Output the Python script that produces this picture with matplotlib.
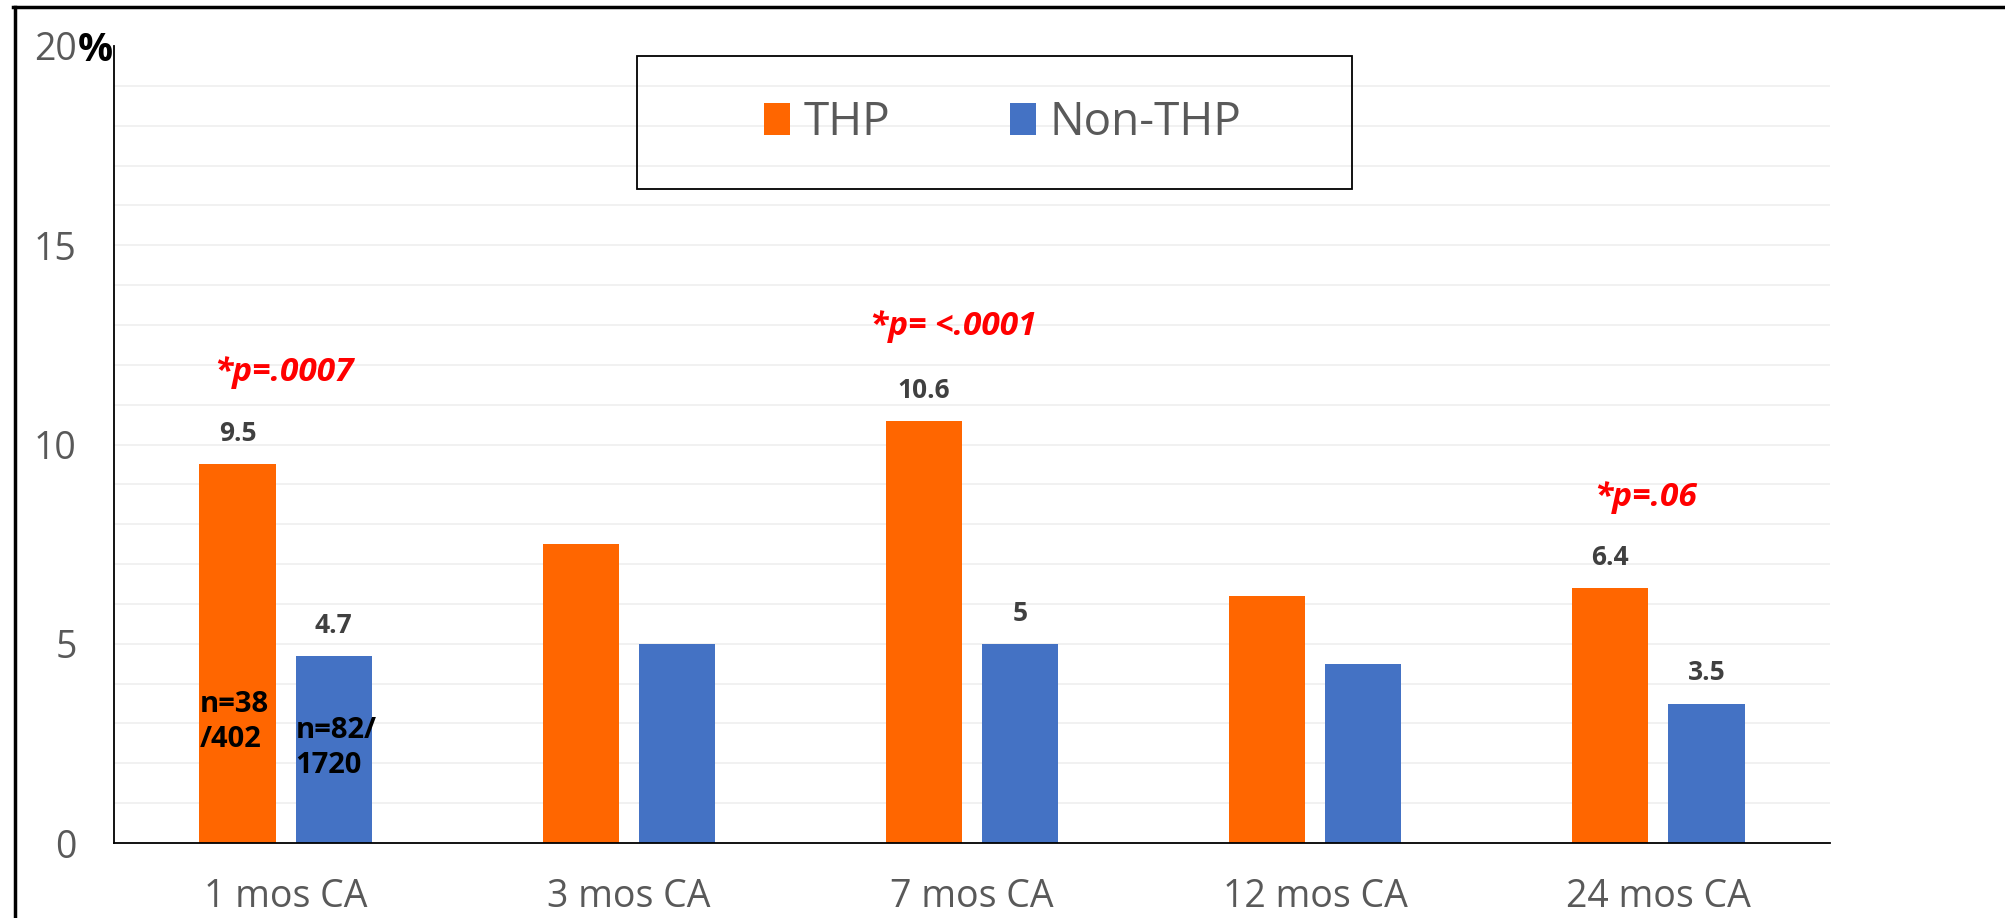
import numpy as np
import matplotlib
matplotlib.use("Agg")
from matplotlib import pyplot as plt
from matplotlib.patches import Rectangle
from matplotlib.lines import Line2D

plt.rcParams['font.family'] = ['Open Sans', 'DejaVu Sans']

# data
categories = ['1 mos CA', '3 mos CA', '7 mos CA', '12 mos CA', '24 mos CA']
thp = [9.5, 7.5, 10.6, 6.2, 6.4]
non_thp = [4.7, 5.0, 5.0, 4.5, 3.5]
thp_labels = ['9.5', '', '10.6', '', '6.4']
non_thp_labels = ['4.7', '', '5', '', '3.5']
p_labels = ['*p=.0007', '', '*p= <.0001', '', '*p=.06']
p_heights = [11.8, 0, 12.95, 0, 8.68]
n_thp = ['n=38\n/402', '', '', '', '']
n_non_thp = ['n=82/\n1720', '', '', '', '']

orange = '#ff6600'
blue = '#4472c4'
gray = '#595959'

fig = plt.figure(figsize=(20.05, 9.18), dpi=100)
ax = fig.add_axes([114/2005, 1-843/918, 1716/2005, 797/918])

x = np.arange(len(categories))
w = 0.222
off = 0.14
b1 = ax.bar(x - off, thp, w, color=orange, label='THP', zorder=2)
b2 = ax.bar(x + off, non_thp, w, color=blue, label='Non-THP', zorder=2)

ax.set_xlim(-0.5, len(categories) - 0.5)
ax.set_ylim(0, 20)
ax.set_yticks([0, 5, 10, 15, 20])
ax.set_yticks(np.arange(1, 20), minor=True)
ax.yaxis.remove_overlapping_locs = False
ax.grid(axis='y', which='minor', color='#efefef', lw=1.2, zorder=0)
ax.set_axisbelow(True)
ax.set_xticks(x)
ax.set_xticklabels(categories)
ax.tick_params(axis='both', which='both', length=0, labelsize=27, labelcolor=gray)
ax.tick_params(axis='y', pad=27)
ax.tick_params(axis='x', pad=25)
for s in ['top', 'right']:
    ax.spines[s].set_visible(False)
for s in ['left', 'bottom']:
    ax.spines[s].set_linewidth(1.3)
    ax.spines[s].set_color('black')

# percent sign after the top tick
ax.annotate('%', xy=(0, 20), xycoords=('axes fraction', 'data'),
            xytext=(-26, 0), textcoords='offset points', ha='left', va='center_baseline',
            fontsize=28, fontweight='bold', color='black')

# value labels
for i in range(len(categories)):
    if thp_labels[i]:
        ax.annotate(thp_labels[i], xy=(x[i] - off, thp[i]), xytext=(0, 22),
                    textcoords='offset points', ha='center', va='center',
                    fontsize=19, fontweight='bold', color='#404040')
    if non_thp_labels[i]:
        ax.annotate(non_thp_labels[i], xy=(x[i] + off, non_thp[i]), xytext=(0, 22),
                    textcoords='offset points', ha='center', va='center',
                    fontsize=19, fontweight='bold', color='#404040')
    if n_thp[i]:
        ax.text(x[i] - off - w/2, 3.04, n_thp[i], ha='left', va='center',
                fontsize=21, fontweight='bold', color='black', linespacing=1.3)
    if n_non_thp[i]:
        ax.text(x[i] + off - w/2, 2.38, n_non_thp[i], ha='left', va='center',
                fontsize=21, fontweight='bold', color='black', linespacing=1.3)

p_shift = [-0.006, 0, -0.055, 0, -0.038]
for i in range(len(categories)):
    if p_labels[i]:
        ax.text(x[i] + p_shift[i], p_heights[i], p_labels[i], ha='center', va='center',
                fontsize=24, fontweight='bold', fontstyle='italic', color='#ff0000')

# legend with its own box
leg = ax.legend(handles=[b1, b2], loc='center', ncol=2, frameon=False,
                bbox_to_anchor=(1003/2005, 1-123/918), bbox_transform=fig.transFigure,
                prop={'size': 33},
                handlelength=0.57, handleheight=0.7, handletextpad=0.3, columnspacing=2.6)
for t in leg.get_texts():
    t.set_color(gray)
fig.add_artist(Rectangle((637/2005, 1-189/918), 715/2005, 133/918, transform=fig.transFigure,
                         fill=False, edgecolor='black', lw=1.3))

# outer border (left and top edges only visible)
fig.add_artist(Line2D([14.5/2005, 14.5/2005], [0, 1-6.5/918], transform=fig.transFigure,
                      color='black', lw=2.5))
fig.add_artist(Line2D([13/2005, 1], [1-6.5/918, 1-6.5/918], transform=fig.transFigure,
                      color='black', lw=2.5))

fig.savefig('out.png', dpi=100, facecolor='white')
